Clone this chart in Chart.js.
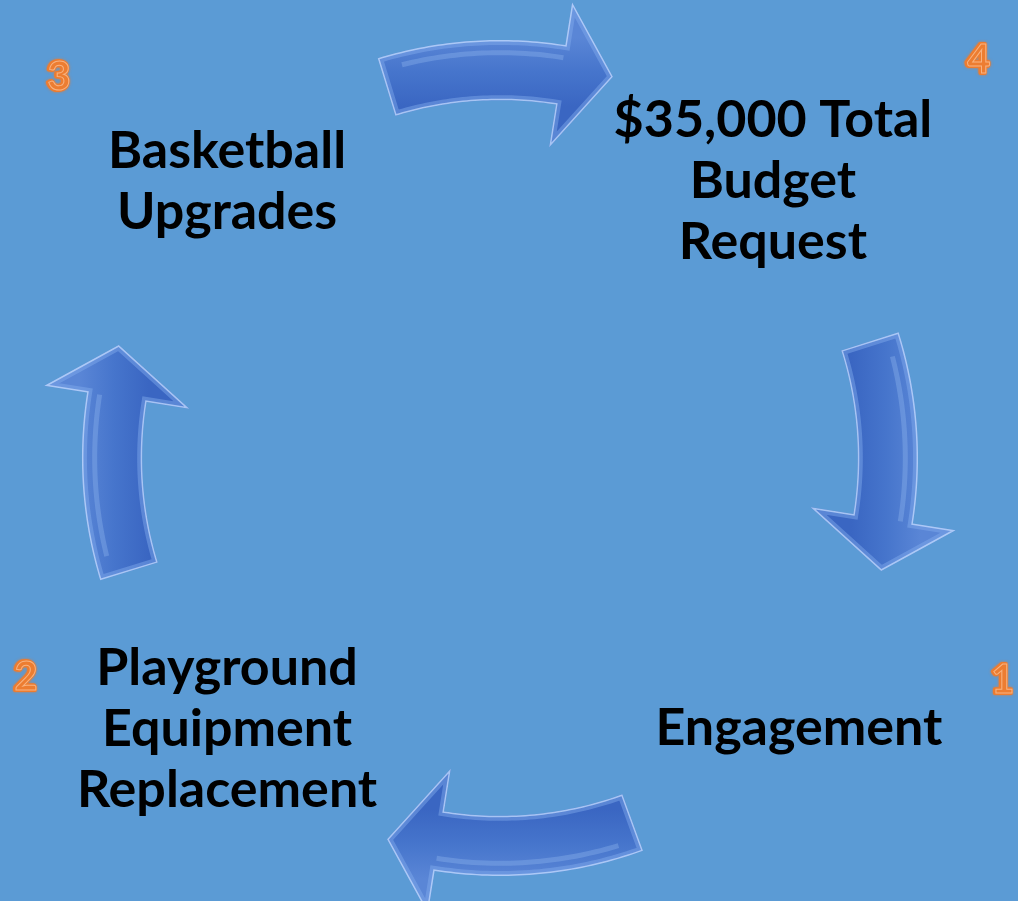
<!DOCTYPE html>
<html>
<head>
<meta charset="utf-8">
<script src="https://cdn.jsdelivr.net/npm/chart.js@4.4.0/dist/chart.umd.min.js"></script>
<style>
  html, body { margin: 0; padding: 0; background: #5B9BD5; }
  #wrap { width: 1018px; height: 901px; position: relative; }
</style>
</head>
<body>
<div id="wrap"><canvas id="cycle"></canvas></div>
<script>
// steps of the cycle, clockwise starting bottom-right
const stepNumbers = ['1', '2', '3', '4'];
const stepLabels = [
    ['Engagement'],
    ['Playground', 'Equipment', 'Replacement'],
    ['Basketball', 'Upgrades'],
    ['$35,000 Total', 'Budget', 'Request']
];

// layout only: where the little number badges sit (chart units), label nudges (px), arrow tail spans (deg)
const badgeSpots = [[1.30, -0.575], [-1.23, -0.567], [-1.145, 0.987], [1.238, 1.031]];
const labelNudge = [[26, -3], [0, -2], [0, -3], [0, -4]];
const tailSpan = [20, 17, 17, 17.5];

const BG = '#5B9BD5';
const FONT = 'Lato, "Open Sans", sans-serif';

// each step sits on the unit circle at a diagonal, going clockwise
const stepAngle = i => -45 - 90 * i;
const stepPoints = stepLabels.map((_, i) => {
    const a = stepAngle(i) * Math.PI / 180;
    return { x: Math.cos(a), y: Math.sin(a) };
});

function toPx(chart, r, deg) {
    const a = deg * Math.PI / 180;
    return [chart.scales.x.getPixelForValue(r * Math.cos(a)),
            chart.scales.y.getPixelForValue(r * Math.sin(a))];
}

function arrowPath(chart, ctx, axis, span) {
    const tail = axis + span, base = axis - 9, tip = axis - 16.5;
    const R = 1.005, sw = 0.078, hw = 0.19;
    const n = 40;
    ctx.beginPath();
    for (let k = 0; k <= n; k++) {
        const p = toPx(chart, R + sw, tail + (base - tail) * k / n);
        if (k === 0) ctx.moveTo(p[0], p[1]); else ctx.lineTo(p[0], p[1]);
    }
    ctx.lineTo(...toPx(chart, R + hw, base));
    ctx.lineTo(...toPx(chart, R + 0.025, tip));
    ctx.lineTo(...toPx(chart, R - hw, base));
    ctx.lineTo(...toPx(chart, R - sw, base));
    for (let k = n; k >= 0; k--) {
        ctx.lineTo(...toPx(chart, R - sw, tail + (base - tail) * k / n));
    }
    ctx.closePath();
}

function drawArrow(chart, axis, span) {
    const ctx = chart.ctx;
    const o = toPx(chart, 1.09, axis), i = toPx(chart, 0.91, axis);
    const grad = ctx.createLinearGradient(o[0], o[1], i[0], i[1]);
    grad.addColorStop(0, '#5A86D6');
    grad.addColorStop(0.5, '#4675CC');
    grad.addColorStop(1, '#3A66C2');

    ctx.save();
    arrowPath(chart, ctx, axis, span);
    ctx.fillStyle = grad;
    ctx.fill();
    ctx.clip();
    // soft bevel on the edges
    ctx.lineJoin = 'miter';
    ctx.lineWidth = 10;
    ctx.strokeStyle = 'rgba(130,172,238,0.45)';
    ctx.stroke();
    ctx.lineWidth = 3;
    ctx.strokeStyle = 'rgba(200,222,255,0.7)';
    ctx.stroke();
    // faint gloss along the shaft
    ctx.beginPath();
    for (let k = 0; k <= 30; k++) {
        const p = toPx(chart, 1.05, axis + span - 3 - (span + 6) * k / 30);
        if (k === 0) ctx.moveTo(p[0], p[1]); else ctx.lineTo(p[0], p[1]);
    }
    ctx.lineWidth = 5;
    ctx.strokeStyle = 'rgba(160,195,245,0.3)';
    ctx.stroke();
    ctx.restore();
}

const cycleArt = {
    id: 'cycleArt',
    beforeDraw(chart) {
        const ctx = chart.ctx;
        ctx.save();
        ctx.fillStyle = BG;
        ctx.fillRect(0, 0, chart.width, chart.height);
        ctx.restore();
    },
    beforeDatasetsDraw(chart) {
        // arrow from step i to step i+1 sits halfway between them
        stepLabels.forEach((_, i) => drawArrow(chart, stepAngle(i) - 45, tailSpan[i]));
    },
    afterDatasetsDraw(chart) {
        const ctx = chart.ctx;
        const meta = chart.getDatasetMeta(0);
        ctx.save();
        ctx.textAlign = 'center';
        ctx.textBaseline = 'middle';
        ctx.fillStyle = '#000000';
        ctx.font = 'bold 52px ' + FONT;
        meta.data.forEach((pt, i) => {
            const lines = stepLabels[i];
            const lh = 61;
            const y0 = pt.y + labelNudge[i][1] - (lines.length - 1) * lh / 2;
            lines.forEach((t, j) => ctx.fillText(t, pt.x + labelNudge[i][0], y0 + j * lh));
        });
        // number badges
        ctx.font = 'bold 40px ' + FONT;
        stepNumbers.forEach((num, i) => {
            const x = chart.scales.x.getPixelForValue(badgeSpots[i][0]);
            const y = chart.scales.y.getPixelForValue(badgeSpots[i][1]);
            ctx.save();
            ctx.shadowColor = 'rgba(237,125,49,0.8)';
            ctx.shadowBlur = 3;
            ctx.lineJoin = 'round';
            ctx.lineWidth = 4;
            ctx.strokeStyle = '#ED7D31';
            ctx.strokeText(num, x, y);
            ctx.fillStyle = '#ED7D31';
            ctx.fillText(num, x, y);
            ctx.restore();
            ctx.lineWidth = 1;
            ctx.strokeStyle = 'rgba(255,214,180,0.6)';
            ctx.strokeText(num, x + 1, y);
        });
        ctx.restore();
    }
};

new Chart(document.getElementById('cycle'), {
    type: 'scatter',
    data: {
        datasets: [{
            label: 'Steps',
            data: stepPoints,
            pointRadius: 0,
            pointHoverRadius: 0
        }]
    },
    options: {
        responsive: true,
        maintainAspectRatio: false,
        animation: false,
        events: [],
        layout: { padding: 0 },
        plugins: { legend: { display: false }, tooltip: { enabled: false } },
        scales: {
            x: { type: 'linear', display: false, min: -1.2953, max: 1.342 },
            y: { type: 'linear', display: false, min: -1.1477, max: 1.1865 }
        }
    },
    plugins: [cycleArt]
});
</script>
</body>
</html>
